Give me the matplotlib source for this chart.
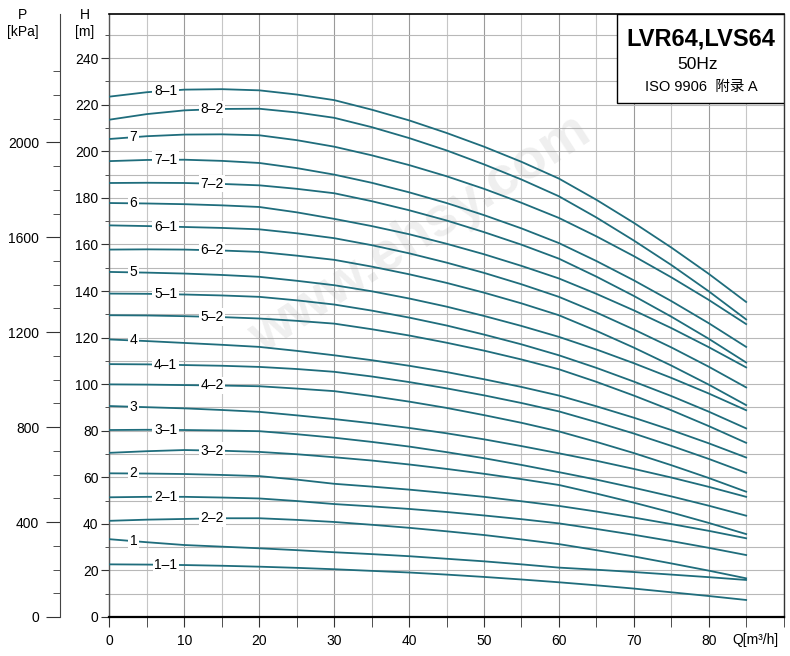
import numpy as np
import matplotlib.pyplot as plt
from matplotlib.ticker import FixedLocator
from matplotlib.patches import Rectangle

plt.rcParams['font.family'] = ['Liberation Sans', 'Noto Sans CJK SC', 'DejaVu Sans']

q = [0, 5, 10, 15, 20, 25, 30, 35, 40, 45, 50, 55, 60, 65, 70, 75, 80, 85]

# head values [m] for each impeller combination
h_8_1 = [223.5, 225.4, 226.5, 226.7, 226.2, 224.4, 222.0, 217.9, 213.3, 207.9, 202.0, 195.5, 188.3, 179.2, 169.3, 158.7, 147.4, 135.3]
h_8_2 = [213.6, 216.0, 217.6, 218.2, 218.3, 216.7, 214.4, 210.4, 205.7, 200.4, 194.4, 187.9, 180.7, 171.6, 161.7, 151.2, 139.9, 127.8]
h_7 = [205.3, 206.5, 207.2, 207.3, 206.9, 204.8, 202.0, 198.3, 194.1, 189.3, 183.9, 177.9, 171.4, 163.5, 155.0, 145.9, 136.2, 125.8]
h_7_1 = [195.8, 196.3, 196.4, 195.9, 195.0, 192.8, 190.0, 186.5, 182.4, 177.8, 172.6, 166.9, 160.6, 152.9, 144.6, 135.7, 126.2, 116.0]
h_7_2 = [186.4, 186.5, 186.4, 186.0, 185.4, 183.9, 182.0, 178.6, 174.7, 170.3, 165.3, 159.9, 153.9, 146.2, 137.9, 129.0, 119.5, 109.3]
h_6 = [177.8, 177.6, 177.3, 176.8, 176.1, 173.8, 171.0, 167.9, 164.4, 160.3, 155.8, 150.8, 145.4, 138.8, 131.7, 124.1, 115.9, 107.2]
h_6_1 = [168.2, 167.9, 167.5, 167.1, 166.5, 164.8, 162.7, 159.7, 156.2, 152.2, 147.8, 142.9, 137.5, 130.8, 123.5, 115.8, 107.5, 98.6]
h_6_2 = [157.8, 157.9, 157.8, 157.4, 156.8, 155.2, 153.4, 150.5, 147.2, 143.5, 139.3, 134.7, 129.6, 122.9, 115.7, 108.0, 99.8, 91.0]
h_5 = [148.2, 147.9, 147.5, 146.9, 146.1, 144.4, 142.5, 139.9, 136.8, 133.3, 129.3, 125.0, 120.3, 114.9, 109.0, 102.7, 96.0, 88.8]
h_5_1 = [138.9, 138.8, 138.5, 138.1, 137.5, 136.0, 134.2, 131.6, 128.6, 125.2, 121.3, 117.1, 112.4, 107.0, 101.1, 94.9, 88.2, 81.0]
h_5_2 = [129.6, 129.5, 129.2, 128.8, 128.2, 127.2, 126.0, 123.6, 120.9, 117.8, 114.4, 110.6, 106.4, 101.0, 95.1, 88.8, 82.0, 74.8]
h_4 = [119.2, 118.5, 117.7, 116.9, 116.0, 114.3, 112.4, 110.3, 107.9, 105.2, 102.1, 98.8, 95.1, 90.5, 85.6, 80.3, 74.6, 68.5]
h_4_1 = [108.6, 108.5, 108.2, 107.9, 107.4, 106.5, 105.3, 103.3, 100.9, 98.2, 95.2, 91.9, 88.3, 83.7, 78.8, 73.5, 67.9, 61.9]
h_4_2 = [99.9, 99.8, 99.6, 99.4, 99.1, 98.1, 97.0, 94.9, 92.5, 89.8, 86.7, 83.4, 79.7, 75.2, 70.4, 65.2, 59.7, 53.8]
h_3 = [90.6, 90.1, 89.6, 88.9, 88.1, 86.6, 85.0, 83.2, 81.2, 78.9, 76.3, 73.4, 70.3, 67.1, 63.6, 59.9, 55.9, 51.6]
h_3_1 = [80.3, 80.4, 80.3, 80.1, 79.8, 78.5, 77.0, 75.2, 73.2, 70.8, 68.2, 65.3, 62.2, 59.0, 55.5, 51.8, 47.8, 43.5]
h_3_2 = [70.5, 71.2, 71.7, 71.4, 70.9, 69.9, 68.6, 67.2, 65.5, 63.6, 61.5, 59.2, 56.7, 53.0, 49.1, 44.9, 40.4, 35.6]
h_2 = [61.7, 61.6, 61.4, 61.0, 60.5, 59.0, 57.2, 56.0, 54.7, 53.2, 51.6, 49.7, 47.7, 45.3, 42.7, 39.9, 37.0, 33.8]
h_2_1 = [51.4, 51.6, 51.6, 51.3, 50.9, 49.8, 48.5, 47.5, 46.4, 45.1, 43.6, 42.0, 40.2, 37.8, 35.3, 32.6, 29.7, 26.6]
h_2_2 = [41.3, 41.8, 42.1, 42.4, 42.4, 41.7, 40.8, 39.6, 38.3, 36.8, 35.2, 33.3, 31.3, 28.7, 26.0, 23.0, 19.9, 16.6]
h_1 = [33.4, 32.1, 30.9, 30.2, 29.5, 28.7, 27.8, 27.0, 26.1, 25.0, 23.9, 22.6, 21.2, 20.3, 19.3, 18.2, 17.1, 15.9]
h_1_1 = [22.6, 22.5, 22.3, 22.0, 21.6, 21.1, 20.5, 19.8, 19.1, 18.2, 17.2, 16.1, 14.9, 13.6, 12.2, 10.6, 9.0, 7.3]

curve_names = ['8–1', '8–2', '7', '7–1', '7–2', '6', '6–1', '6–2', '5', '5–1', '5–2',
               '4', '4–1', '4–2', '3', '3–1', '3–2', '2', '2–1', '2–2', '1', '1–1']
curves = [h_8_1, h_8_2, h_7, h_7_1, h_7_2, h_6, h_6_1, h_6_2, h_5, h_5_1, h_5_2,
          h_4, h_4_1, h_4_2, h_3, h_3_1, h_3_2, h_2, h_2_1, h_2_2, h_1, h_1_1]

h_ticks = list(range(0, 241, 20))
p_ticks = [0, 400, 800, 1200, 1600, 2000]
q_ticks = list(range(0, 81, 10))

fig = plt.figure(figsize=(7.9, 6.56), dpi=100)
ax = fig.add_axes([0.1386, 0.0595, 0.8533, 0.9192])
ax.set_xlim(0, 90)
ax.set_ylim(0, 259)

# grid
ax.set_axisbelow(True)
ax.xaxis.set_major_locator(FixedLocator(q_ticks))
ax.xaxis.set_minor_locator(FixedLocator([5, 15, 25, 35, 45, 55, 65, 75, 85, 90]))
ax.yaxis.set_major_locator(FixedLocator(h_ticks))
ax.yaxis.set_minor_locator(FixedLocator(list(range(10, 251, 20))))
ax.grid(True, which='major', axis='x', color='#9a9a9a', lw=0.8)
ax.grid(True, which='minor', axis='x', color='#c6c6c6', lw=0.8)
ax.grid(True, which='both', axis='y', color='#b8b8b8', lw=0.8)

ax.tick_params(axis='x', which='both', direction='out', length=7, pad=5,
               labelsize=10, color='#333333')
ax.tick_params(axis='y', which='major', direction='out', length=6, pad=2,
               labelsize=10, color='#333333')
ax.tick_params(axis='y', which='minor', direction='out', length=3, color='#333333')

ax.spines['left'].set_color('#555555')
ax.spines['left'].set_linewidth(1.0)
ax.spines['bottom'].set_color('black')
ax.spines['bottom'].set_linewidth(1.6)
ax.spines['top'].set_color('black')
ax.spines['top'].set_linewidth(1.2)
ax.spines['right'].set_color('#333333')
ax.spines['right'].set_linewidth(1.0)

# watermark
ax.text(41.5, 164, 'www.ehsy.com', rotation=33, fontsize=40, fontweight='bold',
        color='#9a9a9a', alpha=0.16, ha='center', va='center', zorder=2)

# curves with labels on them
for name, h in zip(curve_names, curves):
    ax.plot(q, h, color='#1f6d7c', lw=1.3, zorder=3)
    if '–' not in name:
        lq = 3.2
    elif name.endswith('1'):
        lq = 7.5
    else:
        lq = 13.7
    ly = np.interp(lq, q, h)
    ax.text(lq, ly, name, fontsize=10, ha='center', va='center', zorder=4,
            bbox=dict(facecolor='white', edgecolor='none', pad=1.2))

# Q axis label
ax.text(86.2, -0.038, 'Q[m³/h]', transform=ax.get_xaxis_transform(),
        ha='center', va='center', fontsize=10)

# pressure axis on the far left
ax2 = ax.twinx()
ax2.set_ylim(0, 259 * 9.81)
ax2.yaxis.set_ticks_position('left')
ax2.spines['left'].set_position(('axes', -0.0734))
ax2.spines['left'].set_visible(True)
ax2.spines['left'].set_color('#444444')
for s in ['right', 'top', 'bottom']:
    ax2.spines[s].set_visible(False)
ax2.yaxis.set_major_locator(FixedLocator(p_ticks))
ax2.yaxis.set_minor_locator(FixedLocator([100, 200, 300, 500, 600, 700, 900, 1000, 1100,
                                          1300, 1400, 1500, 1700, 1800, 1900, 2100,
                                          2200, 2300]))
ax2.tick_params(axis='y', which='major', direction='out', length=10, pad=5,
                labelsize=10, color='#333333')
ax2.tick_params(axis='y', which='minor', direction='out', length=5, color='#333333')

# title box
ax.add_patch(Rectangle((0.7529, 0.8524), 0.2471, 0.1476, transform=ax.transAxes,
                       facecolor='white', edgecolor='black', lw=1.0, zorder=5))
ax.text(0.877, 0.958, 'LVR64,LVS64', transform=ax.transAxes, ha='center', va='center',
        fontsize=17, fontweight='bold', zorder=6)
ax.text(0.873, 0.917, '50Hz', transform=ax.transAxes, ha='center', va='center',
        fontsize=12.5, zorder=6)
ax.text(0.8785, 0.8794, 'ISO 9906  附录 A', transform=ax.transAxes, ha='center',
        va='center', fontsize=10.5, zorder=6)

# axis titles at the top
fig.text(0.1076, 0.977, 'H', ha='center', va='center', fontsize=10)
fig.text(0.1076, 0.951, '[m]', ha='center', va='center', fontsize=10)
fig.text(0.0285, 0.977, 'P', ha='center', va='center', fontsize=10)
fig.text(0.0285, 0.951, '[kPa]', ha='center', va='center', fontsize=10)

fig.savefig('out.png', dpi=100)
